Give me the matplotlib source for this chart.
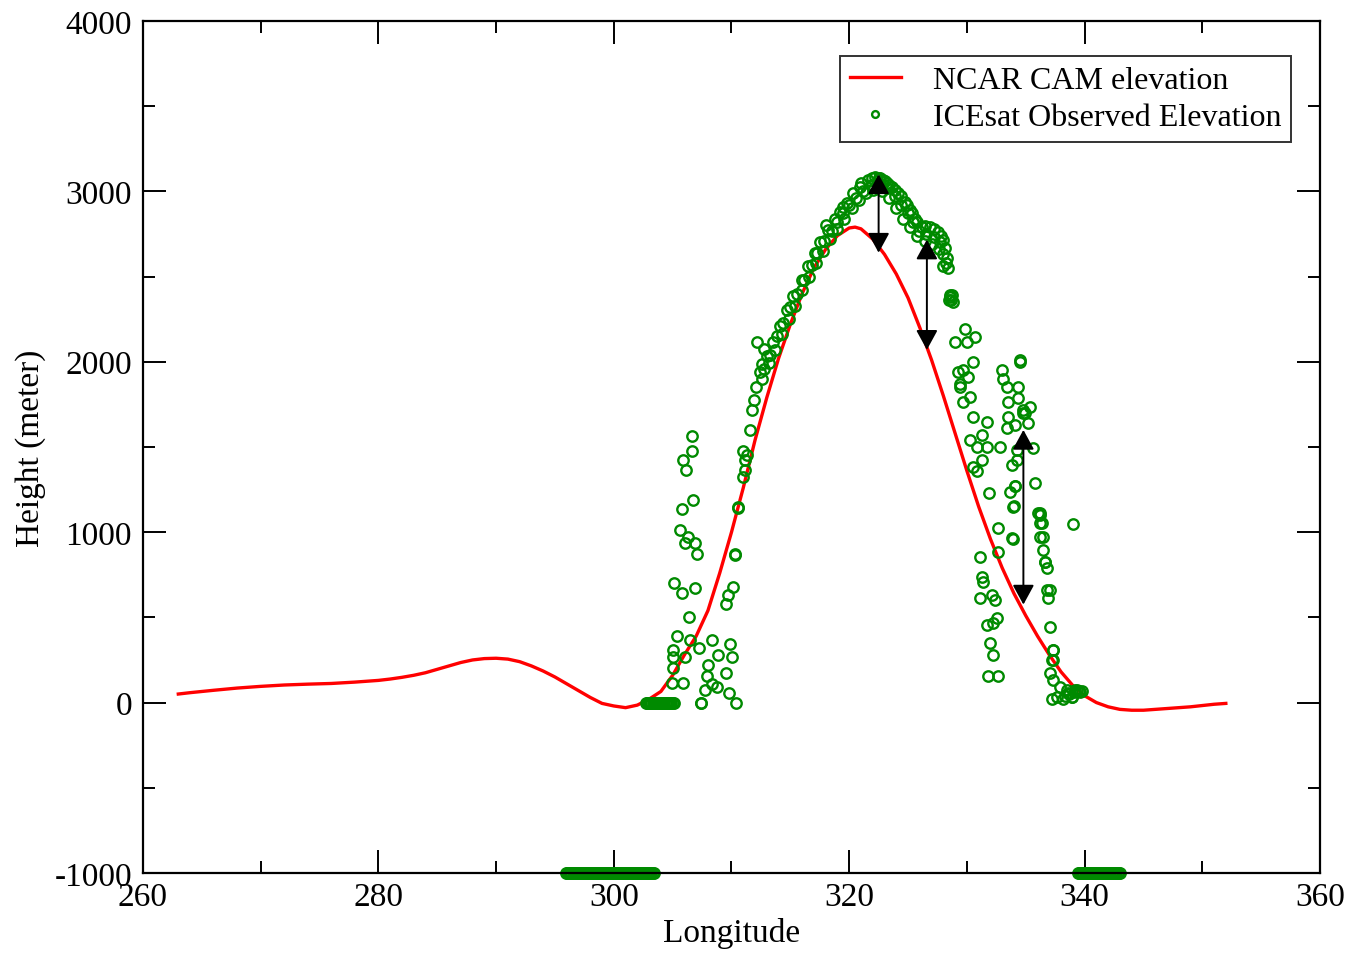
import matplotlib
matplotlib.use("Agg")
import matplotlib.pyplot as plt

plt.rcParams["font.family"] = ["Liberation Serif", "DejaVu Serif"]
plt.rcParams["axes.unicode_minus"] = False

# Model (NCAR CAM) surface elevation along the transect
cam_lon = [263.0, 264.0, 266.0, 268.0, 270.0, 272.0, 274.0, 276.0, 278.0, 280.0,
           281.0, 282.0, 283.0, 284.0, 285.0, 286.0, 287.0, 288.0, 289.0, 290.0,
           291.0, 292.0, 293.0, 294.0, 295.0, 296.0, 297.0, 298.0, 299.0, 300.0,
           301.0, 302.0, 303.0, 304.0, 305.0, 306.0, 307.0, 308.0, 309.0, 310.0,
           311.0, 312.0, 313.0, 314.0, 315.0, 316.0, 317.0, 318.0, 319.0, 320.0,
           320.5, 321.0, 322.0, 323.0, 324.0, 325.0, 326.0, 327.0, 328.0, 329.0,
           330.0, 331.0, 332.0, 333.0, 334.0, 335.0, 336.0, 337.0, 338.0, 339.0,
           340.0, 341.0, 342.0, 343.0, 344.0, 345.0, 347.0, 349.0, 351.0, 352.0]
cam_height = [50, 58, 72, 85, 95, 103, 108, 112, 120, 130,
              138, 148, 160, 175, 195, 215, 235, 250, 258, 260,
              255, 240, 215, 185, 150, 110, 70, 30, -5, -20,
              -30, -15, 20, 65, 160, 280, 390, 540, 760, 1000,
              1260, 1540, 1790, 2020, 2220, 2400, 2550, 2660, 2740, 2785,
              2790, 2780, 2720, 2630, 2515, 2375, 2200, 2010, 1800, 1580,
              1360, 1150, 960, 790, 640, 510, 390, 280, 180, 100,
              40, 0, -25, -40, -45, -45, -35, -25, -10, -5]

# ICESat track segments with no valid return (stored as -1000)
fill_lon = [295.9, 296.0, 296.1, 296.2, 296.3, 296.4, 296.5, 296.6, 296.7, 296.8,
            296.9, 297.0, 297.1, 297.2, 297.3, 297.4, 297.5, 297.6, 297.7, 297.8,
            297.9, 298.0, 298.1, 298.2, 298.3, 298.4, 298.5, 298.6, 298.7, 298.8,
            298.9, 299.0, 299.1, 299.2, 299.3, 299.4, 299.5, 299.6, 299.7, 299.8,
            299.9, 300.0, 300.1, 300.2, 300.3, 300.4, 300.5, 300.6, 300.7, 300.8,
            300.9, 301.0, 301.1, 301.2, 301.3, 301.4, 301.5, 301.6, 301.7, 301.8,
            301.9, 302.0, 302.1, 302.2, 302.3, 302.4, 302.5, 302.6, 302.7, 302.8,
            302.9, 303.0, 303.1, 303.2, 303.3, 303.4,
            339.4, 339.5, 339.6, 339.7, 339.8, 339.9, 340.0, 340.1, 340.2, 340.3,
            340.4, 340.5, 340.6, 340.7, 340.8, 340.9, 341.0, 341.1, 341.2, 341.3,
            341.4, 341.5, 341.6, 341.7, 341.8, 341.9, 342.0, 342.1, 342.2, 342.3,
            342.4, 342.5, 342.6, 342.7, 342.8, 342.9, 343.0]
fill_height = [-1000] * len(fill_lon)

# ICESat observed elevation
obs_lon = [
    # sea-level returns west of the ice sheet
    302.7, 302.8, 302.9, 303.0, 303.1, 303.2, 303.3, 303.4, 303.5, 303.6,
    303.7, 303.8, 303.9, 304.0, 304.1, 304.2, 304.3, 304.4, 304.5, 304.6,
    304.7, 304.8, 304.9, 305.0, 305.1,
    # western margin
    306.64, 306.64, 305.88, 306.13, 306.73, 305.80, 305.62, 306.30, 306.05, 306.90,
    307.07, 305.11, 305.80, 306.90, 309.68, 309.51, 306.39, 305.37, 306.47, 307.24,
    308.35, 309.87, 310.04, 305.03, 305.03, 306.05, 305.03, 304.94, 305.88, 307.97,
    308.82, 309.51, 307.88, 308.35, 307.71, 309.77, 307.45, 310.36, 308.74, 307.45,
    310.97, 311.14, 310.97, 310.55, 310.30, 310.13, 310.55, 310.30,
    # rising flank
    311.14, 311.31, 311.57, 311.74, 311.91, 312.08, 312.59, 312.76, 312.17,
    312.42, 313.02, 313.53, 314.12, 314.72, 315.23, 315.99, 316.50, 317.09, 317.51,
    318.19, 318.79, 319.21, 319.81, 320.32, 320.91, 321.59, 322.19,
    312.8, 313.3, 313.9, 314.4, 315.0, 315.6, 316.2, 316.8, 317.3, 317.9,
    318.5, 319.0, 319.5, 320.0, 320.6, 321.2, 321.9, 322.5, 321.0, 321.9,
    322.5, 318.0, 319.5,
    312.6, 313.2, 313.7, 314.3, 314.9, 315.4, 316.0, 316.6, 317.2, 317.8,
    318.4, 319.0, 319.6, 320.2, 320.8, 321.4, 322.0,
    # summit and descending flank
    322.87, 323.63, 324.14, 324.74, 325.16, 325.59, 326.18, 326.87, 327.54, 327.97,
    328.14, 328.31, 328.39, 328.56, 328.65, 328.60, 328.50, 328.70,
    323.2, 323.9, 324.4, 325.0, 325.4, 325.9, 326.5, 327.2, 327.7, 328.0,
    328.2, 323.2,
    322.8, 323.4, 324.0, 324.6, 325.2, 325.8, 326.4, 327.0, 327.6, 328.0,
    322.6, 323.0, 323.4, 323.9, 324.4, 324.9, 325.3, 325.8, 326.4, 327.2,
    327.8,
    # eastern scatter
    328.82, 329.84, 328.99, 330.01, 330.69, 330.52, 329.24, 329.67, 330.09, 329.41,
    329.41, 330.26, 329.67, 332.98, 333.07, 333.41, 334.51, 334.51, 334.34, 334.34,
    333.49, 333.49, 333.41, 334.09, 334.77, 334.77, 335.36, 335.19, 330.52, 331.71,
    330.26, 331.28, 330.86, 331.71, 332.81, 331.28, 330.52, 330.86, 335.62, 334.26,
    333.83, 334.26, 335.79, 334.09, 333.66, 331.88, 334.00, 336.21, 336.21, 336.38,
    336.21, 332.64, 333.83, 332.64, 336.47, 336.64, 336.80, 331.11, 331.28, 331.37,
    331.11, 332.13, 332.39, 336.80, 336.89, 332.56, 331.71, 332.22, 331.96, 332.22,
    331.79, 332.64, 337.06, 337.32, 337.32,
    334.94, 334.09, 333.92, 336.04, 336.21, 339.01, 333.92, 336.47, 336.64, 337.06,
    337.32, 337.23, 337.06, 337.32, 337.91, 337.66, 337.23, 338.50, 339.35, 339.78,
    338.16, 338.93, 339.10, 338.70, 339.50, 338.3, 338.6, 338.9, 339.2, 339.6,
]
obs_height = [
    0, 0, 0, 0, 0, 0, 0, 0, 0, 0,
    0, 0, 0, 0, 0, 0, 0, 0, 0, 0,
    0, 0, 0, 0, 0,
    1567, 1479, 1426, 1367, 1191, 1133, 1015, 974, 939, 939,
    874, 704, 645, 675, 634, 581, 505, 393, 370, 323,
    370, 346, 270, 311, 270, 270, 205, 117, 117, 223,
    282, 176, 153, 106, 76, 59, 0, 0, 94, 0,
    1326, 1426, 1479, 1144, 863, 681, 1150, 870,
    1367, 1455, 1602, 1719, 1778, 1849, 1984, 2072, 2113,
    1937, 2031, 2113, 2207, 2306, 2383, 2482, 2559, 2641, 2705,
    2776, 2835, 2876, 2934, 2993, 3028, 3069, 3087,
    1960, 2040, 2150, 2230, 2320, 2400, 2480, 2570, 2640, 2710,
    2770, 2820, 2870, 2920, 2960, 3000, 3040, 3050, 3050, 3080,
    3080, 2800, 2910,
    1900, 1990, 2070, 2160, 2250, 2330, 2420, 2500, 2580, 2650,
    2720, 2780, 2840, 2900, 2950, 2990, 3010,
    3069, 3028, 2993, 2940, 2893, 2835, 2793, 2788, 2764, 2717,
    2670, 2611, 2553, 2394, 2365, 2380, 2360, 2390,
    3020, 2970, 2920, 2870, 2820, 2770, 2750, 2730, 2700, 2630,
    2580, 3050,
    3000, 2960, 2900, 2840, 2790, 2740, 2710, 2690, 2660, 2560,
    3080, 3060, 3040, 3010, 2970, 2920, 2870, 2820, 2795, 2780,
    2740,
    2353, 2195, 2113, 2113, 2148, 2001, 1937, 1954, 1913, 1854,
    1870, 1796, 1761, 1954, 1896, 1849, 2013, 2000, 1849, 1790,
    1766, 1678, 1614, 1631, 1719, 1700, 1737, 1643, 1673, 1649,
    1543, 1573, 1502, 1502, 1502, 1426, 1385, 1356, 1496, 1485,
    1397, 1426, 1291, 1268, 1238, 1227, 1156, 1115, 1100, 1056,
    974, 1027, 968, 886, 898, 822, 792, 857, 739, 710,
    616, 634, 604, 663, 616, 499, 458, 469, 352, 282,
    153, 153, 446, 311, 252,
    1702, 1268, 1150, 1115, 1056, 1050, 957, 974, 827, 663,
    311, 252, 176, 135, 94, 35, 18, 76, 76, 65,
    18, 35, 60, 50, 70, 40, 55, 30, 75, 60,
]

# Differences between model and observation
arrow_lon = [322.5, 326.6, 334.8]
arrow_top = [3100, 2717, 1600]
arrow_bottom = [2640, 2070, 575]

fig = plt.figure(figsize=(13.49, 9.54), dpi=100)
ax = fig.add_axes([0.106, 0.0839, 0.8725, 0.8931])

green = "#008a00"
ax.plot(cam_lon, cam_height, color="#ff0000", lw=2.4, label="NCAR CAM elevation", zorder=2)
ax.plot(obs_lon, obs_height, ls="none", marker="o", ms=7.5, mfc="none", mec=green,
        mew=1.7, label="ICEsat Observed Elevation", clip_on=False, zorder=2.2)
ax.plot(fill_lon, fill_height, ls="none", marker="o", ms=7.5, mfc="none", mec=green,
        mew=1.7, clip_on=False, zorder=2.2)

for x, top, bottom in zip(arrow_lon, arrow_top, arrow_bottom):
    ax.annotate("", xy=(x, top), xytext=(x, bottom),
                arrowprops=dict(arrowstyle="<|-|>,head_length=0.55,head_width=0.3",
                                color="black", lw=1.4, mutation_scale=22,
                                shrinkA=0, shrinkB=0), zorder=4)

ax.set_xlim(260, 360)
ax.set_ylim(-1000, 4000)
ax.set_xticks([260, 280, 300, 320, 340, 360])
ax.set_xticks([270, 290, 310, 330, 350], minor=True)
ax.set_yticks([-1000, 0, 1000, 2000, 3000, 4000])
ax.set_yticks([-500, 500, 1500, 2500, 3500], minor=True)

ax.tick_params(which="both", direction="in", top=True, right=True,
               labelsize=24, width=1.4)
ax.tick_params(axis="x", pad=6)
ax.tick_params(axis="y", pad=8)
ax.tick_params(which="major", length=16.5)
ax.tick_params(which="minor", length=8.5)
for s in ax.spines.values():
    s.set_linewidth(1.6)

ax.set_xlabel("Longitude", fontsize=24, labelpad=4)
ax.set_ylabel("Height (meter)", fontsize=24, labelpad=6)

leg = ax.legend(loc="upper right", bbox_to_anchor=(0.9754, 0.959), borderaxespad=0,
                fontsize=23, frameon=True, fancybox=False, edgecolor="black",
                numpoints=1, markerscale=0.65, handlelength=1.6, handletextpad=1.0,
                borderpad=0.3, labelspacing=0.25)
leg.get_frame().set_linewidth(1.4)

fig.savefig("out.png", dpi=100)
